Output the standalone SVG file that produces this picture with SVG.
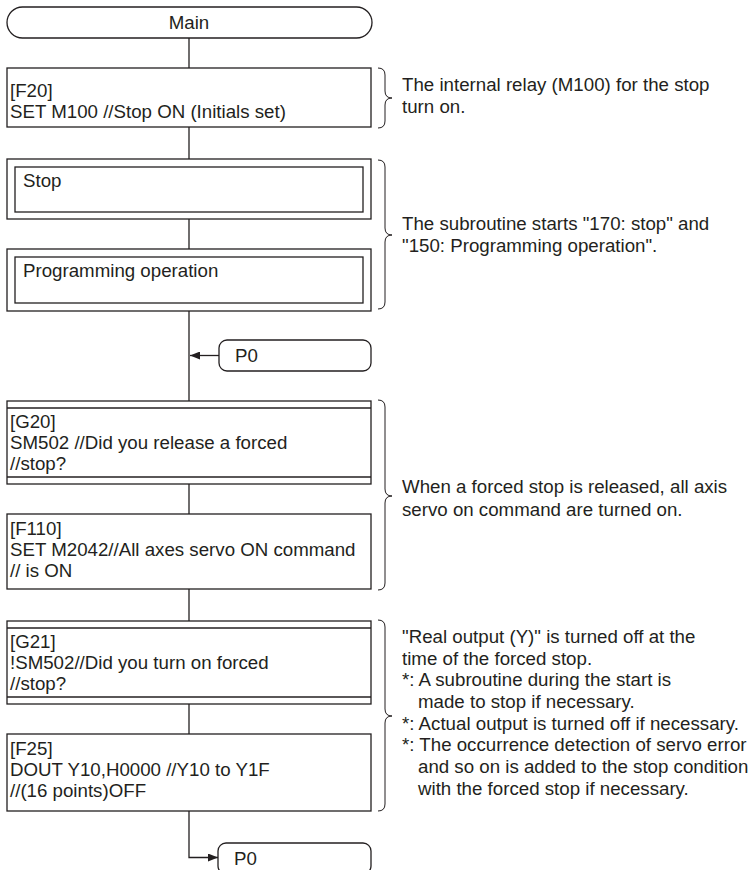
<svg xmlns="http://www.w3.org/2000/svg" width="749" height="870" viewBox="0 0 749 870">
<style>
.b{fill:#fff;stroke:#231f20;stroke-width:1.3}
.l{fill:none;stroke:#231f20;stroke-width:1.3}
.t{font-family:"Liberation Sans",Arial,sans-serif;font-size:18.7px;fill:#231f20}
.br{fill:none;stroke:#231f20;stroke-width:1}
</style>
<defs>
<marker id="ah" viewBox="0 0 10 8" refX="10" refY="4" markerWidth="10" markerHeight="8" markerUnits="userSpaceOnUse" orient="auto">
<path d="M0,0 L10,4 L0,8 Z" fill="#231f20"/>
</marker>
</defs>
<rect width="749" height="870" fill="#fff"/>
<g id="connectors">
<line class="l" x1="189" y1="38" x2="189" y2="68"/>
<line class="l" x1="189" y1="127" x2="189" y2="159"/>
<line class="l" x1="189" y1="219" x2="189" y2="249"/>
<line class="l" x1="189" y1="311" x2="189" y2="401"/>
<line class="l" x1="219" y1="355.5" x2="190" y2="355.5" marker-end="url(#ah)"/>
<line class="l" x1="189" y1="484" x2="189" y2="514"/>
<line class="l" x1="189" y1="589" x2="189" y2="621"/>
<line class="l" x1="189" y1="704" x2="189" y2="734"/>
<polyline class="l" points="189,811 189,857.5 218,857.5" marker-end="url(#ah)"/>
</g>
<g id="main">
<rect class="b" x="7" y="7" width="365" height="31" rx="15.5"/>
<text class="t" x="189" y="29" text-anchor="middle">Main</text>
</g>
<g id="f20">
<rect class="b" x="7" y="68" width="364" height="59"/>
<text class="t" x="10" y="97">[F20]</text>
<text class="t" x="10" y="118">SET M100 //Stop ON (Initials set)</text>
</g>
<g id="stop">
<rect class="b" x="7" y="159" width="364" height="60"/>
<rect class="b" x="15" y="167" width="348" height="45"/>
<text class="t" x="23" y="187">Stop</text>
</g>
<g id="programming">
<rect class="b" x="7" y="249" width="364" height="62"/>
<rect class="b" x="15" y="257" width="348" height="46"/>
<text class="t" x="23" y="277">Programming operation</text>
</g>
<g id="p0-top">
<rect class="b" x="219" y="340" width="152" height="31" rx="8"/>
<text class="t" x="235" y="362">P0</text>
</g>
<g id="g20">
<rect class="b" x="7" y="401" width="364" height="83"/>
<line class="l" x1="7" y1="408" x2="371" y2="408"/>
<line class="l" x1="7" y1="477" x2="371" y2="477"/>
<text class="t" x="10" y="428">[G20]</text>
<text class="t" x="10" y="449">SM502 //Did you release a forced</text>
<text class="t" x="10" y="470">//stop?</text>
</g>
<g id="f110">
<rect class="b" x="7" y="514" width="364" height="75"/>
<text class="t" x="10" y="535">[F110]</text>
<text class="t" x="10" y="556">SET M2042//All axes servo ON command</text>
<text class="t" x="10" y="577">// is ON</text>
</g>
<g id="g21">
<rect class="b" x="7" y="621" width="364" height="83"/>
<line class="l" x1="7" y1="628" x2="371" y2="628"/>
<line class="l" x1="7" y1="697" x2="371" y2="697"/>
<text class="t" x="10" y="648">[G21]</text>
<text class="t" x="10" y="669">!SM502//Did you turn on forced</text>
<text class="t" x="10" y="690">//stop?</text>
</g>
<g id="f25">
<rect class="b" x="7" y="734" width="364" height="77"/>
<text class="t" x="10" y="755">[F25]</text>
<text class="t" x="10" y="776">DOUT Y10,H0000 //Y10 to Y1F</text>
<text class="t" x="10" y="797">//(16 points)OFF</text>
</g>
<g id="p0-bottom">
<rect class="b" x="218" y="843" width="153" height="31" rx="8"/>
<text class="t" x="234" y="865">P0</text>
</g>
<g id="note1">
<path class="br" d="M378,68 Q385,68 385,75 L385,91 Q385,98 392,98 Q385,98 385,105 L385,121 Q385,128 378,128"/>
<text class="t" x="402" y="91">The internal relay (M100) for the stop</text>
<text class="t" x="402" y="113">turn on.</text>
</g>
<g id="note2">
<path class="br" d="M378,160 Q385,160 385,167 L385,228 Q385,235 392,235 Q385,235 385,242 L385,302 Q385,309 378,309"/>
<text class="t" x="402" y="230">The subroutine starts "170: stop" and</text>
<text class="t" x="402" y="252">"150: Programming operation".</text>
</g>
<g id="note3">
<path class="br" d="M378,400 Q385,400 385,407 L385,489 Q385,496 392,496 Q385,496 385,503 L385,583 Q385,590 378,590"/>
<text class="t" x="402" y="493">When a forced stop is released, all axis</text>
<text class="t" x="402" y="516">servo on command are turned on.</text>
</g>
<g id="note4">
<path class="br" d="M378,620 Q385,620 385,627 L385,709 Q385,716 392,716 Q385,716 385,723 L385,804 Q385,811 378,811"/>
<text class="t" x="402" y="643">"Real output (Y)" is turned off at the</text>
<text class="t" x="402" y="665">time of the forced stop.</text>
<text class="t" x="402" y="686">*: A subroutine during the start is</text>
<text class="t" x="418" y="708">made to stop if necessary.</text>
<text class="t" x="402" y="730">*: Actual output is turned off if necessary.</text>
<text class="t" x="402" y="751">*: The occurrence detection of servo error</text>
<text class="t" x="418" y="773">and so on is added to the stop condition</text>
<text class="t" x="418" y="795">with the forced stop if necessary.</text>
</g>
</svg>
